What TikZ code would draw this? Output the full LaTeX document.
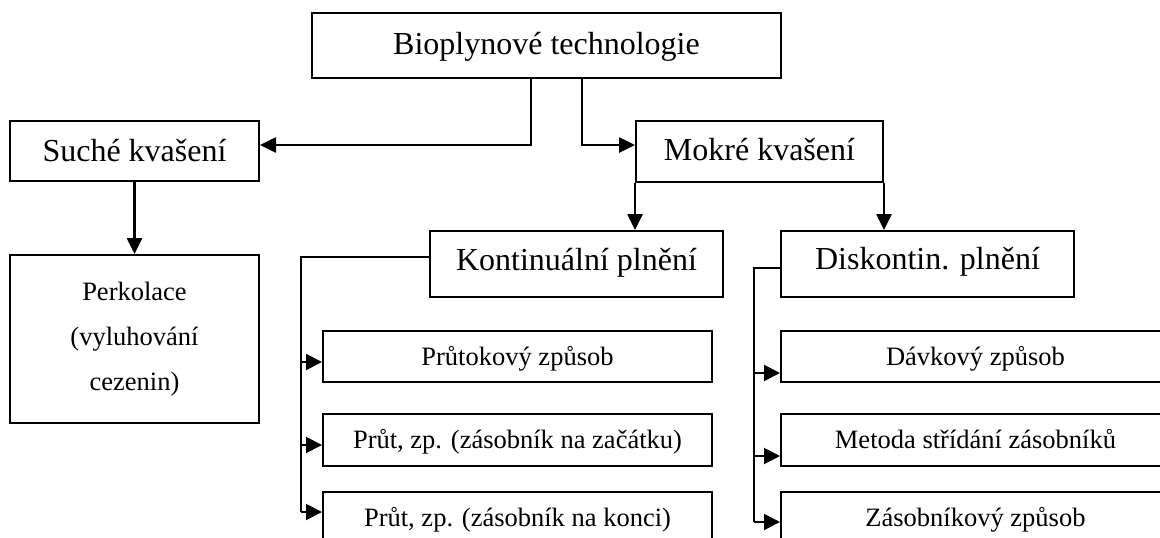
\documentclass[tikz,border=0pt]{standalone}
\usepackage{fontspec}
\setmainfont{Liberation Serif}
\usetikzlibrary{arrows.meta}
\tikzset{
  box/.style={draw, line width=2pt, inner sep=0pt, rectangle, align=center},
  bigbox/.style={box, font=\fontsize{32}{38}\selectfont, text height=25pt, text depth=8pt},
  smallbox/.style={box, font=\fontsize{26.5}{32}\selectfont, text height=22pt, text depth=5pt},
  arr/.style={line width=2.6pt, -{Triangle[length=16pt,width=15pt]}},
  brk/.style={line width=2pt},
  barr/.style={line width=2pt, -{Triangle[length=16pt,width=16pt]}}
}
\begin{document}
\begin{tikzpicture}[x=1pt,y=-1pt]
\useasboundingbox (0,0) rectangle (1160,538);
\clip (0,0) rectangle (1160,538);
\fill[white] (0,0) rectangle (1160,538);

\node[bigbox, minimum width=469pt, minimum height=65pt] (top) at (546.5,45.5) {Bioplynové technologie};
\node[bigbox, minimum width=249pt, minimum height=60pt, text height=29pt, text depth=7.6pt] (suche) at (134.5,151) {Suché kvašení};
\node[bigbox, minimum width=247pt, minimum height=61pt] (mokre) at (759.5,151.5) {Mokré kvašení};
\node[box, minimum width=249pt, minimum height=168pt, font=\fontsize{26.5}{45}\selectfont] (perk) at (134.5,339) {Perkolace\\(vyluhování\\cezenin)};
\node[bigbox, minimum width=293pt, minimum height=66pt, text height=20pt, text depth=8pt] (kont) at (576.5,264) {Kontinuální plnění};
\node[bigbox, minimum width=293pt, minimum height=66pt, text height=18pt, text depth=8pt] (disk) at (927.5,264) {Diskontin. plnění};

\node[smallbox, minimum width=389pt, minimum height=51pt] (l1) at (517.5,356.5) {Průtokový způsob};
\node[smallbox, minimum width=389pt, minimum height=52pt] (l2) at (517.5,440) {Průt, zp. (zásobník na začátku)};
\node[smallbox, minimum width=389pt, minimum height=51pt] (l3) at (517.5,517.5) {Průt, zp. (zásobník na konci)};

\node[smallbox, minimum width=389pt, minimum height=51pt] (r1) at (975.5,356.5) {Dávkový způsob};
\node[smallbox, minimum width=389pt, minimum height=52pt] (r2) at (975.5,440) {Metoda střídání zásobníků};
\node[smallbox, minimum width=389pt, minimum height=51pt] (r3) at (975.5,517.5) {Zásobníkový způsob};

% top connectors
\coordinate (j1) at (531,145);
\coordinate (j2) at (582,145);
\draw[arr] (top.south -| j1) |- (suche.east |- j1);
\draw[arr] (top.south -| j2) |- (mokre.west |- j2);
\draw[arr] (suche.south) -- (perk.north);
\draw[arr] (mokre.south west) -- (kont.north -| mokre.south west);
\draw[arr] (mokre.south east) -- (disk.north -| mokre.south east);

% left bracket
\coordinate (kl) at (301,257);
\draw[brk] (kont.west |- kl) -- (kl) -- (kl |- 0,512);
\draw[barr] (kl |- 0,362) -- (l1.west |- 0,362);
\draw[barr] (kl |- 0,445) -- (l2.west |- 0,445);
\draw[barr] (kl |- 0,512) -- (l3.west |- 0,512);

% right bracket
\coordinate (dl) at (754,268);
\draw[brk] (disk.west |- dl) -- (dl) -- (dl |- 0,522);
\draw[barr] (dl |- 0,373) -- (r1.west |- 0,373);
\draw[barr] (dl |- 0,456) -- (r2.west |- 0,456);
\draw[barr] (dl |- 0,522) -- (r3.west |- 0,522);
\end{tikzpicture}
\end{document}
